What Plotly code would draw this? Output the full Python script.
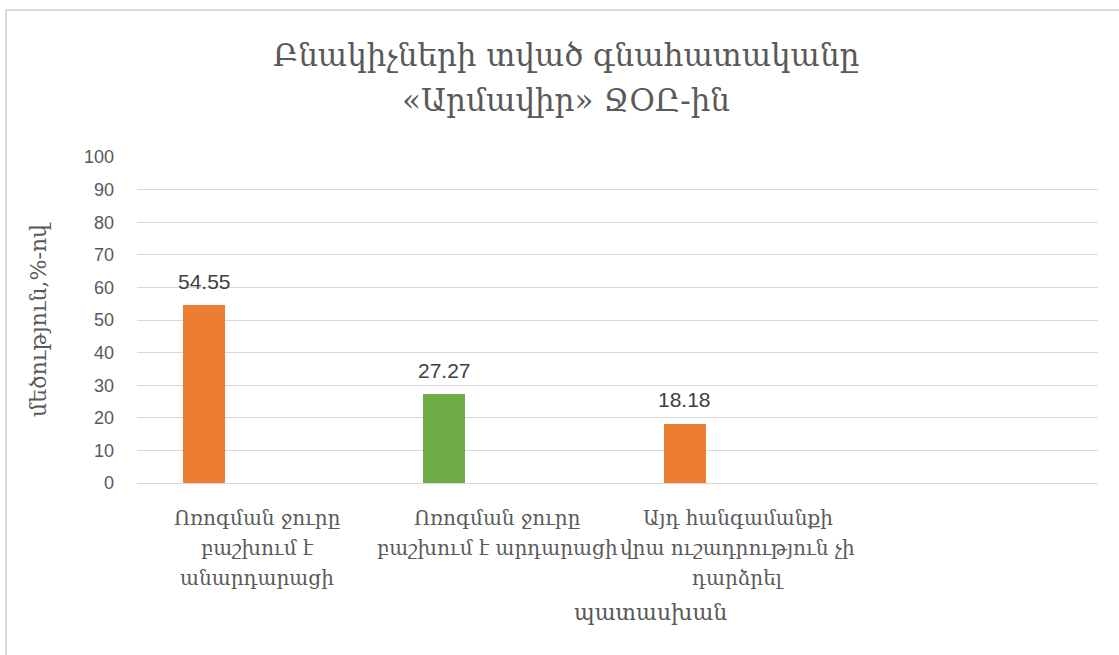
import plotly.graph_objects as go

categories = ["Ոռոգման ջուրը<br>բաշխում է<br>անարդարացի",
              "Ոռոգման ջուրը<br>բաշխում է արդարացի",
              "Այդ հանգամանքի<br>վրա ուշադրություն չի<br>դարձրել"]
values = [54.55, 27.27, 18.18]
colors = ["#ED7D31", "#70AD47", "#ED7D31"]
y_ticks = list(range(0, 101, 10))

title_lines = ["Բնակիչների տված գնահատականը", "«Արմավիր» ՋՕԸ-ին"]
x_title = "պատասխան"
y_title = "մեծություն,%-ով"

W, H = 1119, 655
L, R, T, B = 137, 1098, 157, 483
pw, ph = R - L, B - T

def px(x):
    return (x - L) / pw

def py(y):
    return (B - y) / ph

arm_font = "DejaVu Serif"
num_font = "Liberation Sans"

fig = go.Figure()
fig.add_trace(go.Bar(
    x=list(range(len(values))),
    y=values,
    width=0.175,
    offset=-0.308,
    marker=dict(color=colors, line=dict(width=0)),
    showlegend=False,
    hoverinfo="skip",
))

annotations = []
# data labels
for i, v in enumerate(values):
    annotations.append(dict(
        x=i - 0.308 + 0.175 / 2, y=v, xref="x", yref="y", text=f"{v:.2f}",
        showarrow=False, xanchor="center", yanchor="middle", yshift=24,
        font=dict(family=num_font, size=21, color="#404040")))
# category labels (one annotation per line for Excel-like line spacing)
for i, lab in enumerate(categories):
    for j, line in enumerate(lab.split("<br>")):
        annotations.append(dict(
            x=i, y=py(518 + 30 * j), xref="x", yref="paper", text=line,
            showarrow=False, xanchor="center", yanchor="middle",
            font=dict(family=arm_font, size=20, color="#595959")))
# title lines
for j, line in enumerate(title_lines):
    annotations.append(dict(
        x=px(566), y=py(55 + 45 * j), xref="paper", yref="paper", text=line,
        showarrow=False, xanchor="center", yanchor="middle",
        font=dict(family=arm_font, size=31, color="#595959")))
annotations += [
    dict(text=x_title, xref="paper", yref="paper", x=px(650), y=py(612),
         showarrow=False, xanchor="center", yanchor="middle",
         font=dict(family=arm_font, size=22, color="#595959")),
    dict(text=y_title, xref="paper", yref="paper", x=px(38), y=py(320),
         showarrow=False, xanchor="center", yanchor="middle", textangle=-90,
         font=dict(family=arm_font, size=22, color="#595959")),
]

fig.update_layout(
    width=W, height=H,
    margin=dict(l=L, r=W - R, t=T, b=H - B),
    paper_bgcolor="white", plot_bgcolor="white",
    xaxis=dict(range=[-0.5, 3.5], tickvals=[0, 1, 2], showticklabels=False,
               showgrid=False, zeroline=False, showline=False, ticks=""),
    yaxis=dict(range=[0, 100], tickvals=y_ticks, showgrid=True,
               gridcolor="#D9D9D9", gridwidth=1, zeroline=True,
               zerolinecolor="#D9D9D9", zerolinewidth=1, showline=False,
               ticks="", tickfont=dict(family=num_font, size=18, color="#595959"),
               ticklabelstandoff=22),
    bargap=0,
    annotations=annotations,
    shapes=[
        dict(type="line", xref="paper", yref="paper", x0=px(6), x1=px(1125),
             y0=py(10), y1=py(10), line=dict(color="#D9D9D9", width=2)),
        dict(type="line", xref="paper", yref="paper", x0=px(6), x1=px(6),
             y0=py(10), y1=py(660), line=dict(color="#D9D9D9", width=2)),
    ],
)

fig.write_html("out.html", config={"displayModeBar": False},
               post_script="document.body.style.margin='0px';")
